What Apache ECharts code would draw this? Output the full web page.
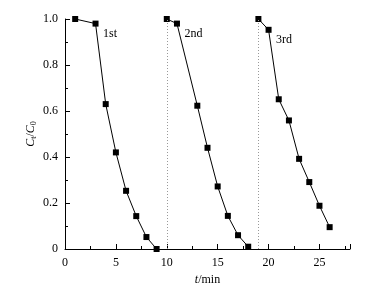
<!DOCTYPE html>
<html>
<head>
<meta charset="utf-8">
<script src="https://cdn.jsdelivr.net/npm/echarts@6/dist/echarts.min.js"></script>
<style>
  html, body { margin: 0; padding: 0; background: #fff; }
  #chart { width: 379px; height: 291px; }
</style>
</head>
<body>
<div id="chart"></div>
<script>
// three adsorption cycles, C_t/C_0 vs time
var run1T = [1, 3, 4, 5, 6, 7, 8, 9];
var run1C = [1.0, 0.98, 0.63, 0.42, 0.253, 0.143, 0.052, 0.0];
var run2T = [10, 11, 13, 14, 15, 16, 17, 18];
var run2C = [1.0, 0.98, 0.623, 0.44, 0.272, 0.144, 0.06, 0.01];
var run3T = [19, 20, 21, 22, 23, 24, 25, 26];
var run3C = [1.0, 0.953, 0.651, 0.559, 0.392, 0.291, 0.188, 0.095];
var runNames = ['1st', '2nd', '3rd'];
var restartTimes = [10, 19];

var font = 'Liberation Serif';
var chart = echarts.init(document.getElementById('chart'));

function pairs(t, c) {
    return t.map(function (v, i) { return [v, c[i]]; });
}

function runSeries(t, c, name, label, withMark) {
    var s = {
        type: 'line',
        name: name,
        data: pairs(t, c),
        symbol: 'rect',
        symbolSize: 6,
        clip: false,
        itemStyle: { color: '#000' },
        lineStyle: { color: '#000', width: 1 },
        animation: false,
        // run name beside the second point
        markPoint: {
            symbol: 'circle',
            symbolSize: 1,
            itemStyle: { color: 'rgba(0,0,0,0)' },
            label: {
                show: true,
                formatter: label,
                color: '#000',
                fontFamily: font,
                fontSize: 12,
                position: 'right',
                offset: [2, 10]
            },
            data: [{ coord: [t[1], c[1]] }]
        }
    };
    if (withMark != null) {
        s.markLine = {
            silent: true,
            symbol: ['none', 'none'],
            label: { show: false },
            lineStyle: { color: '#999', type: [1, 2], width: 1 },
            data: [{ xAxis: withMark }]
        };
    }
    return s;
}

var tickStyle = { color: '#000', width: 1 };

var option = {
    backgroundColor: '#fff',
    animation: false,
    grid: { left: 65, right: 29, top: 19, bottom: 42 },
    xAxis: {
        type: 'value',
        min: 0,
        max: 28,
        interval: 5,
        name: '{i|t}/min',
        nameLocation: 'middle',
        nameGap: 22,
        nameTextStyle: {
            color: '#000', fontFamily: font, fontSize: 12,
            rich: { i: { fontStyle: 'italic', fontFamily: font, fontSize: 12, color: '#000' } }
        },
        axisLine: { show: true, lineStyle: { color: '#000', width: 1 } },
        axisTick: { show: true, inside: true, length: 5, lineStyle: tickStyle },
        minorTick: { show: true, splitNumber: 2, length: 3, lineStyle: tickStyle },
        axisLabel: {
            color: '#000', fontFamily: font, fontSize: 12, margin: 8,
            showMaxLabel: false,
            formatter: function (v) { return v % 5 === 0 ? String(v) : ''; }
        },
        splitLine: { show: false }
    },
    yAxis: {
        type: 'value',
        min: 0,
        max: 1.0,
        interval: 0.2,
        name: '{i|C}{s|t}/{i|C}{s|0}',
        nameLocation: 'middle',
        nameGap: 27,
        nameMoveOverlap: false,
        nameTextStyle: {
            color: '#000', fontFamily: font, fontSize: 12,
            rich: {
                i: { fontStyle: 'italic', fontFamily: font, fontSize: 12, color: '#000' },
                s: { fontFamily: font, fontSize: 8, color: '#000', verticalAlign: 'bottom', padding: [6, 0, 0, 0] }
            }
        },
        axisLine: { show: true, lineStyle: { color: '#000', width: 1 } },
        axisTick: { show: true, inside: true, length: 5, lineStyle: tickStyle },
        minorTick: { show: true, splitNumber: 2, length: 3, lineStyle: tickStyle },
        axisLabel: {
            color: '#000', fontFamily: font, fontSize: 12, margin: 7,
            formatter: function (v) {
                var k = Math.round(v * 10);
                return k === 0 ? '0' : (k / 10).toFixed(1);
            }
        },
        splitLine: { show: false }
    },
    series: [
        runSeries(run1T, run1C, 'run1', runNames[0], null),
        runSeries(run2T, run2C, 'run2', runNames[1], restartTimes[0]),
        runSeries(run3T, run3C, 'run3', runNames[2], restartTimes[1])
    ]
};

chart.setOption(option);
</script>
</body>
</html>
